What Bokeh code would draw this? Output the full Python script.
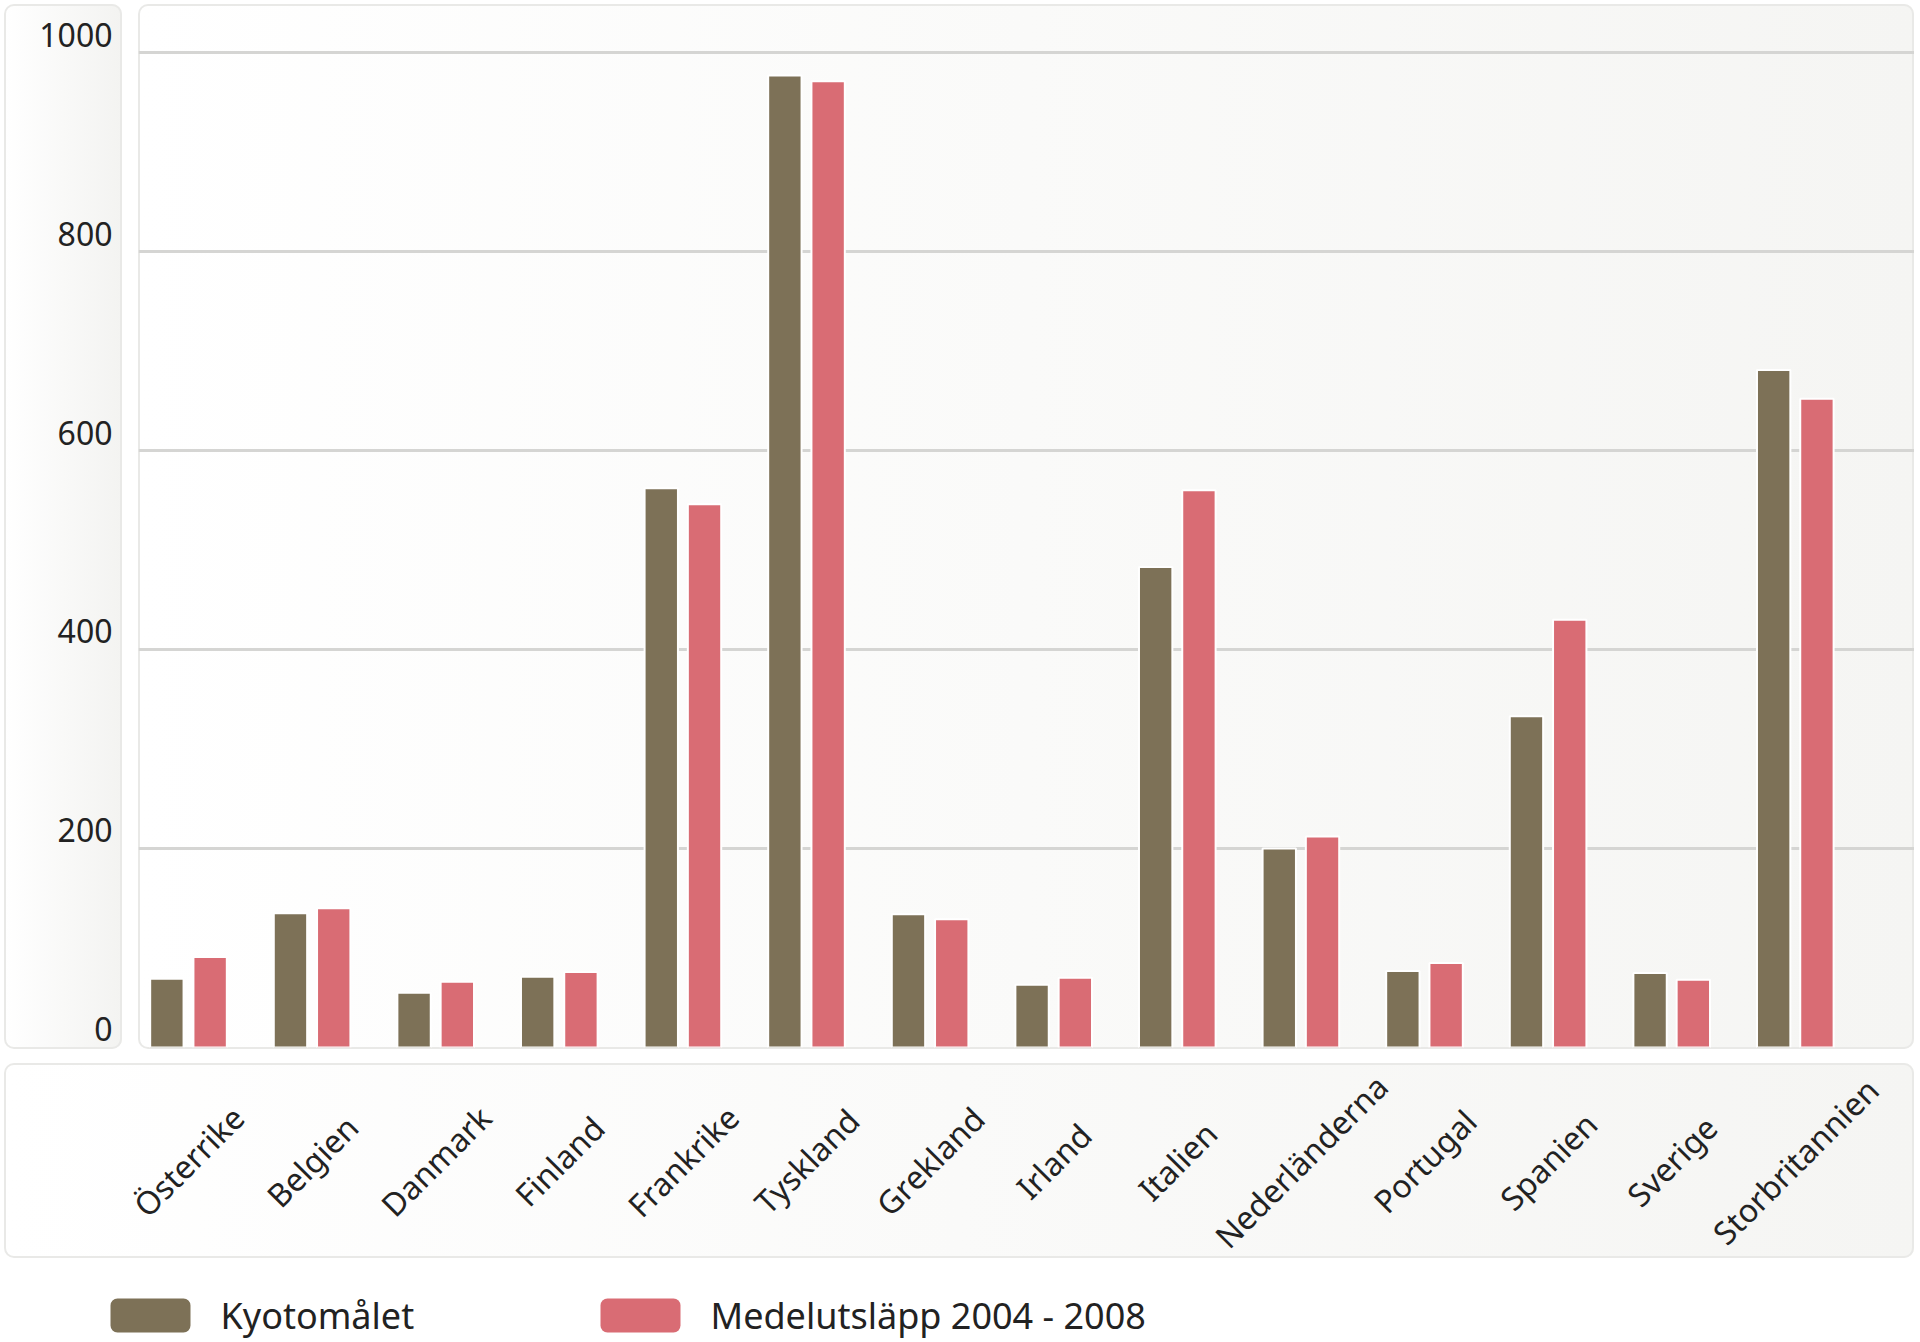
import math
from bokeh.plotting import figure
from bokeh.models import Range1d, Grid, FixedTicker, ColumnDataSource, Row, Column
from bokeh.core.properties import value
from bokeh.transform import dodge
from bokeh.embed import file_html
from bokeh.resources import INLINE

# ---------------- data ----------------
countries = ["Österrike", "Belgien", "Danmark", "Finland", "Frankrike", "Tyskland",
             "Grekland", "Irland", "Italien", "Nederländerna", "Portugal", "Spanien",
             "Sverige", "Storbritannien"]
kyoto = [69, 135, 55, 71, 562, 977, 134, 63, 483, 200, 77, 333, 75, 681]
emissions = [91, 140, 66, 76, 546, 971, 129, 70, 560, 212, 85, 430, 68, 652]
series = ["Kyotomålet", "Medelutsläpp 2004 - 2008"]
colors = ["#7d7157", "#d96c74"]
y_ticks = [0, 200, 400, 600, 800, 1000]
y_tick_labels = ["0", "200", "400", "600", "800", "1000"]

FONT = "Noto Sans"
xs = list(range(len(countries)))
src = ColumnDataSource(dict(x=xs, country=countries, kyoto=kyoto, emissions=emissions))

# layout geometry (page pixels)
ORIGIN_X, ORIGIN_Y = 4, 4
TOP_H = 1045
STEP = 123.6          # px per category
FIRST = 188.0         # first group centre (page x)
PX_PER_UNIT = 0.995

def panel_style(c0="#ffffff", c1="#f4f4f2"):
    return {"background": f"linear-gradient(to right, {c0}, {c1})",
            "border-radius": "10px",
            "box-shadow": "inset 0 0 0 2px #e9e9e7",
            "overflow": "hidden"}

def base_fig(w, h, xr, yr, styles=None):
    f = figure(width=w, height=h, x_range=xr, y_range=yr,
               x_axis_type=None, y_axis_type=None,
               toolbar_location=None, output_backend="svg",
               min_border=0, outline_line_color=None,
               background_fill_alpha=0, border_fill_alpha=0)
    if styles:
        f.styles = styles
    return f

# ---------------- main plot panel ----------------
PW = 1776
plot_left = 138
frame_h = TOP_H - 2
yr = Range1d(0, frame_h / PX_PER_UNIT)
x_start = (plot_left - FIRST) / STEP
p = base_fig(PW, TOP_H, Range1d(x_start, x_start + PW / STEP), yr,
             panel_style("#ffffff", "#f5f5f3"))
p.min_border_bottom = 2

grid = Grid(dimension=1, ticker=FixedTicker(ticks=y_ticks),
            grid_line_color="#d5d5d3", grid_line_width=3)
p.add_layout(grid)

p.vbar(x=dodge("x", -0.175, range=p.x_range), top="kyoto", width=0.27, source=src,
       fill_color=colors[0], line_color="white", line_width=2)
p.vbar(x=dodge("x", 0.175, range=p.x_range), top="emissions", width=0.27, source=src,
       fill_color=colors[1], line_color="white", line_width=2)

# ---------------- y axis panel ----------------
YW = 118
fy = base_fig(YW, TOP_H, Range1d(0, YW),
              Range1d(-2 / PX_PER_UNIT, frame_h / PX_PER_UNIT),
              panel_style("#ffffff", "#f3f3f1"))
fy.text(x=[YW - 10] * len(y_ticks), y=y_ticks, text=y_tick_labels,
        text_align="right", text_baseline="middle", y_offset=-17,
        text_font=value(FONT), text_font_size="32px", text_color="#222222")

# ---------------- x label panel ----------------
LW = 1910
LH = 195
lx_start = (ORIGIN_X - FIRST) / STEP
fl = base_fig(LW, LH, Range1d(lx_start, lx_start + LW / STEP), Range1d(0, 1),
              panel_style("#ffffff", "#f5f5f3"))
fl.text(x="x", y=0.5, text="country", source=src, angle=math.pi / 4,
        text_align="center", text_baseline="middle",
        text_font=value(FONT), text_font_size="32px", text_color="#222222")

# ---------------- legend ----------------
GH = 82
fg = base_fig(LW, GH, Range1d(0, LW), Range1d(0, GH))
box_left = [106, 596]
box_w = 80
fg.quad(left=box_left, right=[b + box_w for b in box_left], bottom=8, top=42,
        fill_color=colors, line_color=None, border_radius=7)
fg.text(x=[b + box_w + 30 for b in box_left], y=25, text=series,
        text_align="left", text_baseline="middle",
        text_font=value(FONT), text_font_size="36px", text_color="#222222")

layout = Column(children=[Row(children=[fy, p], spacing=16),
                          Column(children=[fl, fg], spacing=0)],
                spacing=14, margin=(ORIGIN_Y, 0, 0, ORIGIN_X))

open("out.html", "w").write(file_html(layout, INLINE))
